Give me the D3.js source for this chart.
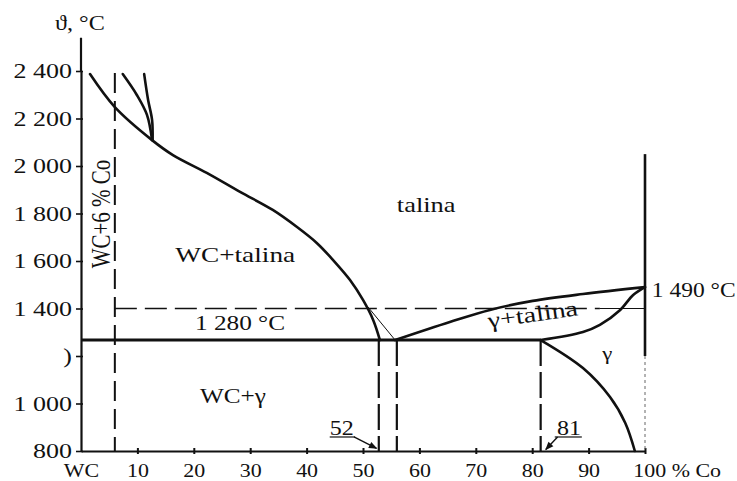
<!DOCTYPE html>
<html><head><meta charset="utf-8">
<script src="https://cdn.jsdelivr.net/npm/d3@7"></script>
<style>body{margin:0;background:#fff}svg{display:block}</style>
</head><body><svg id="c" width="737" height="481"></svg>
<script>
// ---- data ----
const xTicks = [0,10,20,30,40,50,60,70,80,90,100];
const xTickLabels = ["WC","10","20","30","40","50","60","70","80","90","100 % Co"];
const yTicks = [800,1000,1200,1400,1600,1800,2000,2200,2400];
const yTickLabels = ["800","1 000",")","1 400","1 600","1 800","2 000","2 200","2 400"];

const liquidusWC = [[1.6,2387],[6.0,2248],[12.6,2109],[16.3,2046],[22.3,1971],[28.2,1891],[34.0,1815],[38.3,1743],[41.8,1676],[44.7,1604],[47.7,1520],[50.0,1436],[51.8,1352],[53.0,1267]];
const branchA = [[7.4,2387],[9.9,2299],[11.7,2215],[12.6,2109]];
const branchB = [[11.2,2387],[11.9,2278],[12.6,2194],[12.7,2109]];
const liquidusCo = [[55.7,1267],[65.4,1343],[72.5,1394],[80.1,1432],[89.0,1461],[100,1490]];
const solidusCo = [[81.5,1267],[89.0,1301],[92.0,1331],[95.6,1394],[97.9,1457],[100,1490]];
const solvusCo = [[81.5,1267],[89.0,1149],[93.8,1027],[96.5,918],[98.2,800]];
const triangleLine = [[50.9,1406],[55.7,1267]];
const eutecticT = 1267;
const eutecticEnd = 81.5;
const refT = 1400;
const alloyX = 6;
const dashedX = [52.8, 56, 81.5];
const coLineTop = 2050, coLineMid = 1200;
const yAxisTop = 2540;

// ---- chart ----
const svg = d3.select("#c");
svg.append("rect").attr("width",737).attr("height",481).attr("fill","#fff");
const x = d3.scaleLinear([0,100],[81,645]);
const y = d3.scaleLinear([800,2400],[451,71]);
const ink = "#111";
const FONT = "'Liberation Serif','DejaVu Serif',serif";
const line = d3.line().x(d=>x(d[0])).y(d=>y(d[1])).curve(d3.curveCatmullRom.alpha(0.5));
const straight = d3.line().x(d=>x(d[0])).y(d=>y(d[1]));

// axes
const gx = svg.append("g").attr("transform",`translate(0,${y(800)})`)
  .call(d3.axisBottom(x).tickValues(xTicks).tickSize(3).tickSizeOuter(0)
    .tickFormat((d,i)=>xTickLabels[i]));
gx.select(".domain").attr("stroke",ink).attr("stroke-width",2);
gx.selectAll(".tick line").attr("stroke",ink).attr("stroke-width",2).attr("y1",-3);
gx.selectAll(".tick text").attr("font-family",FONT).attr("font-size",18).attr("fill",ink)
  .attr("y",26).attr("dy",0).attr("transform","scale(1.22,1)");
gx.selectAll(".tick").filter(d=>d===100).select("text").attr("text-anchor","start").attr("x",-10);
gx.selectAll(".tick").filter(d=>d===0).select("line").remove();

const gy = svg.append("g").attr("transform",`translate(${x(0)},0)`)
  .call(d3.axisLeft(y).tickValues(yTicks).tickSize(5).tickSizeOuter(0)
    .tickFormat((d,i)=>yTickLabels[i]));
gy.select(".domain").attr("stroke",ink).attr("stroke-width",2.2);
gy.selectAll(".tick line").attr("stroke",ink).attr("stroke-width",1.6).attr("x2",-5).attr("x1",2);
gy.selectAll(".tick text").attr("font-family",FONT).attr("font-size",20).attr("fill",ink)
  .attr("x",-7).attr("dy","0.34em").attr("transform","scale(1.3,1)");
svg.append("line").attr("x1",x(0)).attr("x2",x(0)).attr("y1",y(2400)).attr("y2",y(yAxisTop))
  .attr("stroke",ink).attr("stroke-width",2.2);

// dashed lines
const dash = "22,8";
svg.append("path").attr("d",straight([[alloyX,2392],[alloyX,800]])).attr("stroke",ink)
  .attr("stroke-width",2).attr("stroke-dasharray","20,8").attr("fill","none");
svg.append("path").attr("d",straight([[alloyX,refT],[92,refT]])).attr("stroke",ink)
  .attr("stroke-width",1.6).attr("stroke-dasharray",dash).attr("fill","none");
svg.append("path").attr("d",straight([[92,refT],[100,refT]])).attr("stroke",ink)
  .attr("stroke-width",1).attr("fill","none");
dashedX.forEach(v=>{
  svg.append("path").attr("d",straight([[v,eutecticT],[v,800]])).attr("stroke",ink)
    .attr("stroke-width",2.2).attr("stroke-dasharray","26,6").attr("fill","none");
});

// right boundary at 100 % Co
svg.append("path").attr("d",straight([[100,coLineTop],[100,coLineMid]])).attr("stroke",ink)
  .attr("stroke-width",2.6).attr("fill","none");
svg.append("path").attr("d",straight([[100,coLineMid],[100,800]])).attr("stroke","#666")
  .attr("stroke-width",1).attr("stroke-dasharray","3,3").attr("fill","none");

// eutectic line
svg.append("path").attr("d",straight([[0,eutecticT],[eutecticEnd,eutecticT]])).attr("stroke",ink)
  .attr("stroke-width",3).attr("fill","none");

// curves
[liquidusWC, branchA, branchB, liquidusCo, solidusCo, solvusCo].forEach(s=>{
  svg.append("path").attr("d",line(s)).attr("stroke",ink).attr("stroke-width",2.6)
    .attr("fill","none").attr("stroke-linecap","round");
});
svg.append("path").attr("d",straight(triangleLine)).attr("stroke",ink).attr("stroke-width",1)
  .attr("fill","none");

// labels
function label(txt, px, py, size, opts={}){
  const sx = opts.sx || 1.2;
  const rot = opts.rot || 0;
  svg.append("text").attr("transform",`translate(${px},${py}) rotate(${rot}) scale(${sx},1)`)
    .attr("font-family",FONT).attr("font-size",size).attr("fill",ink)
    .attr("text-anchor",opts.anchor||"start").text(txt);
}
label("ϑ, °C", 55, 30, 21, {sx:1.15});
label("talina", x(56), y(1806), 22);
label("WC+talina", x(16.7), y(1596), 21, {sx:1.3});
label("1 280 °C", x(20.2), y(1309), 22, {sx:1.15});
label("WC+γ", x(21.1), y(1002), 21, {sx:1.2});
label("γ+talina", x(72.3), y(1318), 22, {rot:-8, sx:1.28});
label("γ", x(93.3), y(1185), 19, {anchor:"middle"});
label("1 490 °C", x(101.2), y(1448), 21, {sx:1.12});
label("52", x(44.1), y(867), 20, {sx:1.2});
label("81", x(84.4), y(867), 20, {sx:1.2});

// rotated alloy label
svg.append("text").attr("transform",`translate(110,214) rotate(-90) scale(1,1.25)`)
  .attr("font-family",FONT).attr("font-size",21).attr("fill",ink).attr("text-anchor","middle")
  .text("WC+6 % Co");

// underlines and arrows
const defs = svg.append("defs");
defs.append("marker").attr("id","ah").attr("viewBox","0 0 10 10").attr("refX",9).attr("refY",5)
  .attr("markerWidth",7).attr("markerHeight",6).attr("orient","auto")
  .append("path").attr("d","M0,1 L10,5 L0,9 z").attr("fill",ink);
svg.append("path").attr("d",straight([[44.1,859],[48.6,859]])).attr("stroke",ink).attr("stroke-width",1.2);
svg.append("path").attr("d",straight([[84.0,859],[88.8,859]])).attr("stroke",ink).attr("stroke-width",1.2);
svg.append("path").attr("d",straight([[48.4,859],[52.4,811]])).attr("stroke",ink).attr("stroke-width",1.4)
  .attr("fill","none").attr("marker-end","url(#ah)");
svg.append("path").attr("d",straight([[84.5,859],[82.4,806]])).attr("stroke",ink).attr("stroke-width",1.4)
  .attr("fill","none").attr("marker-end","url(#ah)");
</script></body></html>
